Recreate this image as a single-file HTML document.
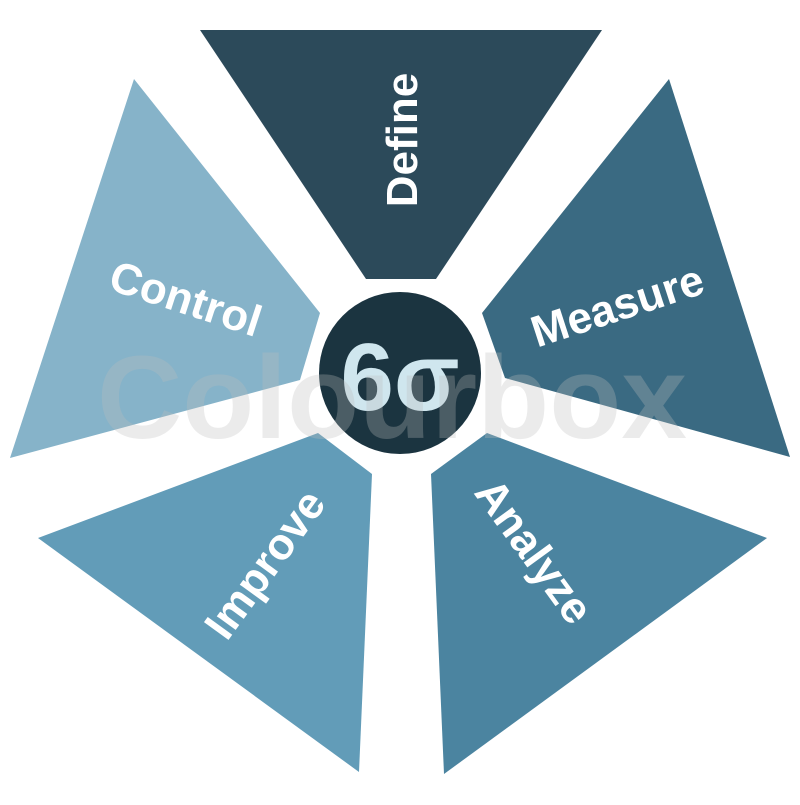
<!DOCTYPE html>
<html><head><meta charset="utf-8"><style>html,body{margin:0;padding:0;background:#fff}</style></head>
<body>
<svg width="800" height="800" viewBox="0 0 800 800" xmlns="http://www.w3.org/2000/svg">
<rect width="800" height="800" fill="#fff"/>
<polygon points="200,30 602,30 436,279 366,279" fill="#2c4a5a"/>
<polygon points="669,79 790,457 505,378 482,313" fill="#3a6a82"/>
<polygon points="767,538 444,774 431,474 487,433" fill="#4b84a0"/>
<polygon points="38,538 359,772 372,474 318,433" fill="#629cb8"/>
<polygon points="134,79 10,458 300,380 320,313" fill="#86b3c9"/>
<circle cx="400" cy="373" r="81" fill="#1b3440"/>
<g font-family="Liberation Sans, sans-serif" font-weight="600" fill="#fff" font-size="44" text-anchor="middle">
<text transform="translate(417,140) rotate(-90)">Define</text>
<text transform="translate(622,320) rotate(-18)">Measure</text>
<text transform="translate(522,560) rotate(54)">Analyze</text>
<text transform="translate(277,573) rotate(-54)">Improve</text>
<text transform="translate(181,313) rotate(18)">Control</text>
</g>
<text x="400" y="410" font-family="Liberation Sans, DejaVu Sans, sans-serif" font-weight="bold" font-size="96" fill="#cfe6ee" text-anchor="middle">6σ</text>
<text x="392" y="438" font-family="Liberation Sans, sans-serif" font-weight="bold" font-size="118" fill="rgba(190,190,190,0.3)" text-anchor="middle">Colourbox</text>
</svg>
</body></html>
